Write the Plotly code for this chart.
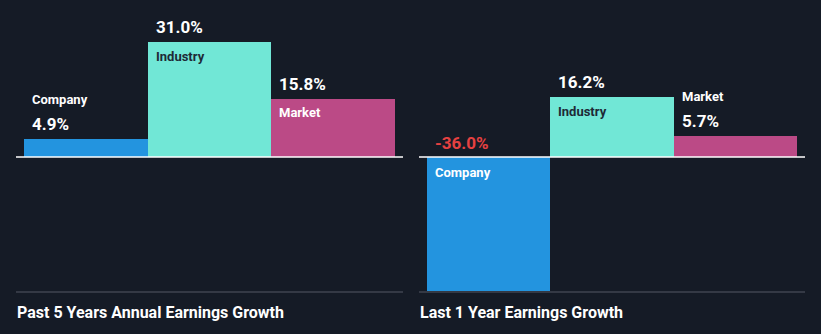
import plotly.graph_objects as go

# Earnings growth comparison, two panels
categories = ["Company", "Industry", "Market"]
past_5y_growth = [4.9, 31.0, 15.8]
last_1y_growth = [-36.0, 16.2, 5.7]
panel_titles = ["Past 5 Years Annual Earnings Growth", "Last 1 Year Earnings Growth"]

BG = "#151b26"
BAR_COLORS = {"Company": "#2394df", "Industry": "#71e7d6", "Market": "#bb4a86"}
NAME_INSIDE_COLORS = {"Company": "#ffffff", "Industry": "#1e2a36", "Market": "#ffffff"}
NEG_COLOR = "#e64141"
FONT = "Roboto"

W, H = 821, 334
PLOT_BOTTOM_MARGIN = 42
Y_RANGE = [-36.4, 42.4]
X_RANGE = [-0.565, 2.565]
PX_PER_UNIT = (H - PLOT_BOTTOM_MARGIN) / (Y_RANGE[1] - Y_RANGE[0])

domains = [[16 / W, 403 / W], [419 / W, 805 / W]]
series = [past_5y_growth, last_1y_growth]

fig = go.Figure()
annotations = []
shapes = []

for i, (vals, dom, title) in enumerate(zip(series, domains, panel_titles)):
    xa = "x" if i == 0 else "x2"
    ya = "y" if i == 0 else "y2"
    fig.add_trace(go.Bar(
        x=list(range(len(categories))),
        y=vals,
        width=1.0,
        marker=dict(color=[BAR_COLORS[c] for c in categories], line=dict(width=0)),
        xaxis=xa, yaxis=ya,
        hoverinfo="skip",
        showlegend=False,
    ))

    for j, (cat, v) in enumerate(zip(categories, vals)):
        base = dict(xref=xa, yref=ya, x=j - 0.5, xanchor="left", xshift=6,
                    yanchor="middle", showarrow=False)
        value_txt = f"{v:.1f}%"
        if v >= 0:
            annotations.append(dict(base, y=v, yshift=15, text=value_txt,
                                    font=dict(family=FONT, size=17, color="#ffffff", weight=700)))
            if v * PX_PER_UNIT < 30:
                annotations.append(dict(base, y=v, yshift=39, text=cat,
                                        font=dict(family=FONT, size=13, color="#ffffff", weight=700)))
            else:
                annotations.append(dict(base, y=v, yshift=-14, text=cat,
                                        font=dict(family=FONT, size=13,
                                                  color=NAME_INSIDE_COLORS[cat], weight=700)))
        else:
            annotations.append(dict(base, y=0, yshift=14, text=value_txt,
                                    font=dict(family=FONT, size=17, color=NEG_COLOR, weight=700)))
            annotations.append(dict(base, y=0, yshift=-15, text=cat,
                                    font=dict(family=FONT, size=13,
                                              color=NAME_INSIDE_COLORS[cat], weight=700)))

    # zero baseline
    shapes.append(dict(type="line", xref=f"{xa} domain", yref=ya, x0=0, x1=1, y0=0, y1=0,
                       line=dict(color="#ffffff", width=1.5), layer="above"))
    # separator under the panel
    shapes.append(dict(type="line", xref="paper", yref="paper", x0=dom[0], x1=dom[1], y0=0, y1=0,
                       line=dict(color="#3f4450", width=1.5), layer="above"))
    # panel title
    annotations.append(dict(xref="paper", yref="paper", x=dom[0], y=0, xanchor="left",
                            yanchor="middle", yshift=-20, xshift=-1, showarrow=False, text=title,
                            font=dict(family=FONT, size=16, color="#ffffff", weight=700)))

axis_common = dict(showgrid=False, zeroline=False, showticklabels=False, showline=False,
                   ticks="", fixedrange=True)

fig.update_layout(
    width=W, height=H,
    margin=dict(l=0, r=0, t=0, b=PLOT_BOTTOM_MARGIN),
    paper_bgcolor=BG, plot_bgcolor=BG,
    bargap=0,
    xaxis=dict(axis_common, domain=domains[0], range=X_RANGE),
    xaxis2=dict(axis_common, domain=domains[1], range=X_RANGE),
    yaxis=dict(axis_common, range=Y_RANGE),
    yaxis2=dict(axis_common, range=Y_RANGE, anchor="x2"),
    annotations=annotations,
    shapes=shapes,
)

fig.write_html("out.html")
